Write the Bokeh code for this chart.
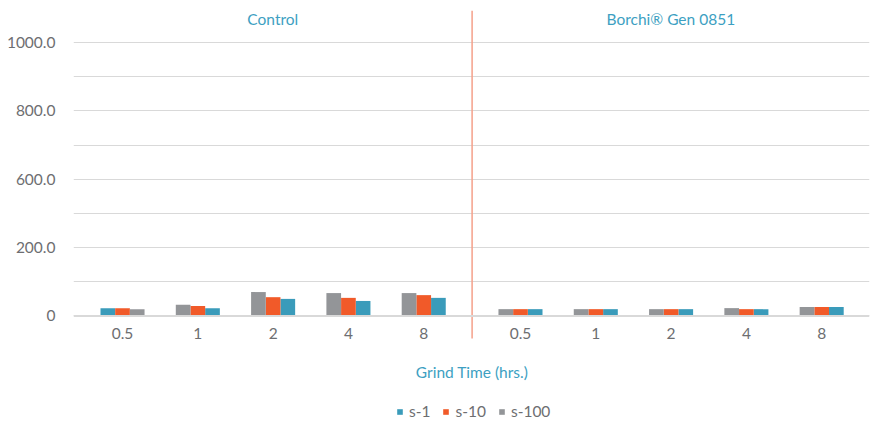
from bokeh.plotting import figure
from bokeh.models import ColumnDataSource, FixedTicker, Legend, LegendItem, Span, Range1d
from bokeh.core.properties import value
from bokeh.embed import file_html
from bokeh.resources import INLINE

# ---------------- data ----------------
groups = ["Control", "Borchi® Gen 0851"]
grind_times = ["0.5", "1", "2", "4", "8"]
series_names = ["s-1", "s-10", "s-100"]

control_s1 = [23, 23, 50, 44, 53]
control_s10 = [23, 29, 55, 53, 61]
control_s100 = [20, 33, 70, 67, 67]
borchi_s1 = [20, 20, 20, 20, 26]
borchi_s10 = [20, 20, 20, 20, 26]
borchi_s100 = [20, 20, 20, 23, 26]

# order of the series inside each cluster (left to right)
control_order = [["s-1", "s-10", "s-100"],
                 ["s-100", "s-10", "s-1"],
                 ["s-100", "s-10", "s-1"],
                 ["s-100", "s-10", "s-1"],
                 ["s-100", "s-10", "s-1"]]
borchi_order = [["s-100", "s-10", "s-1"]] * 5

y_tick_values = [0, 100, 200, 300, 400, 500, 600, 700, 800]
y_tick_labels = ["0", "", "200.0", "", "600.0", "", "800.0", "", "1000.0"]

axis_title = "Grind Time (hrs.)"

# ---------------- style / layout ----------------
colors = {"s-1": "#3a9bba", "s-10": "#f15a29", "s-100": "#939598"}
teal_text = "#3d9fc2"
gray_text = "#6d6e71"
FONT = "Lato"
group_offset = [0.0, 5.285]
bar_w = 0.195
slot_offset = [-bar_w, 0.0, bar_w]

values = {
    "s-1": [control_s1, borchi_s1],
    "s-10": [control_s10, borchi_s10],
    "s-100": [control_s100, borchi_s100],
}
orders = [control_order, borchi_order]

X0, X1 = -0.651, 9.92
Y0, Y1 = -308.6, 893.5
p = figure(width=875, height=421, output_backend="svg", toolbar_location=None,
           x_range=Range1d(X0, X1), y_range=Range1d(Y0, Y1),
           x_axis_location=None,
           min_border_top=10, min_border_bottom=0, min_border_left=73, min_border_right=6)
p.outline_line_color = None
p.background_fill_color = "white"
p.xgrid.visible = False
p.ygrid.grid_line_color = "#d9d9d9"
p.ygrid.grid_line_width = 1
p.yaxis.ticker = FixedTicker(ticks=y_tick_values)
p.yaxis.major_label_overrides = {v: l for v, l in zip(y_tick_values, y_tick_labels)}
p.yaxis.axis_line_color = None
p.yaxis.major_tick_line_color = None
p.yaxis.minor_tick_line_color = None
p.yaxis.major_label_standoff = 12
p.yaxis.major_label_text_font = FONT
p.yaxis.major_label_text_font_size = "15.5px"
p.yaxis.major_label_text_color = gray_text

# baseline
p.add_layout(Span(location=0, dimension="width", line_color="#d9d9d9", line_width=2))

renderers = {}
for s in series_names:
    xs, tops = [], []
    for g in range(len(groups)):
        for i, t in enumerate(grind_times):
            slot = orders[g][i].index(s)
            xs.append(group_offset[g] + i + slot_offset[slot])
            tops.append(values[s][g][i])
    src = ColumnDataSource(dict(x=xs, top=tops))
    renderers[s] = p.vbar(x="x", top="top", bottom=0, width=bar_w, source=src,
                          fill_color=colors[s], line_color=None)

# separator between groups
sep_x = (group_offset[0] + len(grind_times) - 1 + group_offset[1]) / 2
p.segment(x0=[sep_x], y0=[Y1], x1=[sep_x], y1=[-66], line_color="#f5a08a", line_width=1.5)

# category labels
cat_x, cat_t = [], []
for g in range(len(groups)):
    for i, t in enumerate(grind_times):
        cat_x.append(group_offset[g] + i)
        cat_t.append(t)
p.text(x=cat_x, y=[-51] * len(cat_x), text=cat_t, text_align="center", text_baseline="middle",
       text_font=value(FONT), text_font_size="15.5px", text_color=gray_text)

# group titles
gx = [(X0 + sep_x) / 2, (sep_x + X1) / 2]
p.text(x=gx, y=[870, 870], text=groups, text_align="center", text_baseline="middle",
       text_font=value(FONT), text_font_size="15.5px", text_color=teal_text)

# axis title
p.text(x=[sep_x], y=[-165], text=[axis_title], text_align="center", text_baseline="middle",
       text_font=value(FONT), text_font_size="15.5px", text_color=teal_text)

legend = Legend(items=[LegendItem(label=s, renderers=[renderers[s]]) for s in series_names],
                orientation="horizontal", location=(323, 1),
                glyph_width=7, glyph_height=7, label_standoff=6, spacing=12,
                padding=0, margin=0, border_line_color=None, background_fill_alpha=0,
                label_text_font=FONT, label_text_font_size="15.5px", label_text_color=gray_text,
                label_height=18)
p.add_layout(legend)

open("out.html", "w").write(file_html(p, INLINE))
